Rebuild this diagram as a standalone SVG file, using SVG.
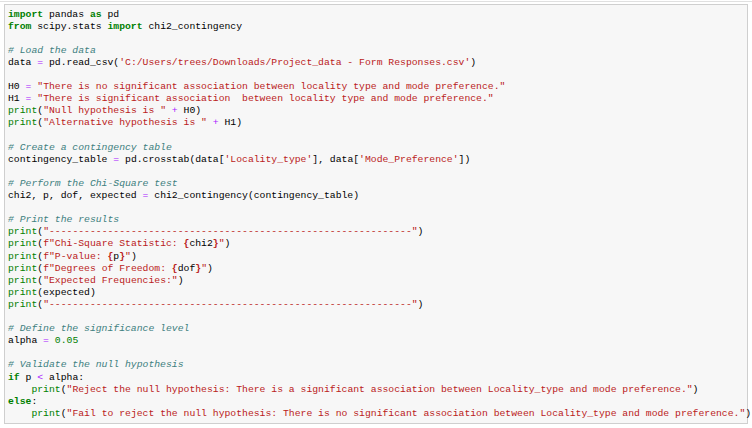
<svg xmlns="http://www.w3.org/2000/svg" width="752" height="428" viewBox="0 0 752 428">
<style>
text{font-family:"Liberation Mono","DejaVu Sans Mono",monospace;font-size:9.75px;fill:#000;white-space:pre}
.k{fill:#008000;font-weight:bold}.s{fill:#BA2121}.c{fill:#408080;font-style:italic}.o{fill:#AA22FF}.n{fill:#008000}
</style>
<rect x="0" y="0" width="752" height="428" fill="#fff"/>
<line x1="0" y1="1.5" x2="752" y2="1.5" stroke="#e0e0e0"/>
<rect x="4.5" y="4.5" width="743" height="419" fill="#f7f7f7" stroke="#cfcfcf"/>
<g id="code" xml:space="preserve">
<text x="8" y="16.5"><tspan class="k">import</tspan> pandas <tspan class="k">as</tspan> pd</text>
<text x="8" y="28.6"><tspan class="k">from</tspan> scipy.stats <tspan class="k">import</tspan> chi2_contingency</text>
<text x="8" y="52.8" class="c"># Load the data</text>
<text x="8" y="64.9">data <tspan class="o">=</tspan> pd.read_csv(<tspan class="s">'C:/Users/trees/Downloads/Project_data - Form Responses.csv'</tspan>)</text>
<text x="8" y="89.1">H0 <tspan class="o">=</tspan> <tspan class="s">"There is no significant association between locality type and mode preference."</tspan></text>
<text x="8" y="101.2">H1 <tspan class="o">=</tspan> <tspan class="s">"There is significant association  between locality type and mode preference."</tspan></text>
<text x="8" y="113.3"><tspan class="n">print</tspan>(<tspan class="s">"Null hypothesis is "</tspan> <tspan class="o">+</tspan> H0)</text>
<text x="8" y="125.4"><tspan class="n">print</tspan>(<tspan class="s">"Alternative hypothesis is "</tspan> <tspan class="o">+</tspan> H1)</text>
<text x="8" y="149.6" class="c"># Create a contingency table</text>
<text x="8" y="161.7">contingency_table <tspan class="o">=</tspan> pd.crosstab(data[<tspan class="s">'Locality_type'</tspan>], data[<tspan class="s">'Mode_Preference'</tspan>])</text>
<text x="8" y="185.9" class="c"># Perform the Chi-Square test</text>
<text x="8" y="198.0">chi2, p, dof, expected <tspan class="o">=</tspan> chi2_contingency(contingency_table)</text>
<text x="8" y="222.2" class="c"># Print the results</text>
<text x="8" y="234.3"><tspan class="n">print</tspan>(<tspan class="s">"--------------------------------------------------------------"</tspan>)</text>
<text x="8" y="246.4"><tspan class="n">print</tspan>(<tspan class="s">f"Chi-Square Statistic: </tspan><tspan class="s" font-weight="bold">{</tspan>chi2<tspan class="s" font-weight="bold">}</tspan><tspan class="s">"</tspan>)</text>
<text x="8" y="258.5"><tspan class="n">print</tspan>(<tspan class="s">f"P-value: </tspan><tspan class="s" font-weight="bold">{</tspan>p<tspan class="s" font-weight="bold">}</tspan><tspan class="s">"</tspan>)</text>
<text x="8" y="270.6"><tspan class="n">print</tspan>(<tspan class="s">f"Degrees of Freedom: </tspan><tspan class="s" font-weight="bold">{</tspan>dof<tspan class="s" font-weight="bold">}</tspan><tspan class="s">"</tspan>)</text>
<text x="8" y="282.7"><tspan class="n">print</tspan>(<tspan class="s">"Expected Frequencies:"</tspan>)</text>
<text x="8" y="294.8"><tspan class="n">print</tspan>(expected)</text>
<text x="8" y="306.9"><tspan class="n">print</tspan>(<tspan class="s">"--------------------------------------------------------------"</tspan>)</text>
<text x="8" y="331.1" class="c"># Define the significance level</text>
<text x="8" y="343.2">alpha <tspan class="o">=</tspan> <tspan class="n">0.05</tspan></text>
<text x="8" y="367.4" class="c"># Validate the null hypothesis</text>
<text x="8" y="379.5"><tspan class="k">if</tspan> p <tspan class="o">&lt;</tspan> alpha:</text>
<text x="8" y="391.6">    <tspan class="n">print</tspan>(<tspan class="s">"Reject the null hypothesis: There is a significant association between Locality_type and mode preference."</tspan>)</text>
<text x="8" y="403.7"><tspan class="k">else</tspan>:</text>
<text x="8" y="415.8">    <tspan class="n">print</tspan>(<tspan class="s">"Fail to reject the null hypothesis: There is no significant association between Locality_type and mode preference."</tspan>)</text>
</g>
</svg>
